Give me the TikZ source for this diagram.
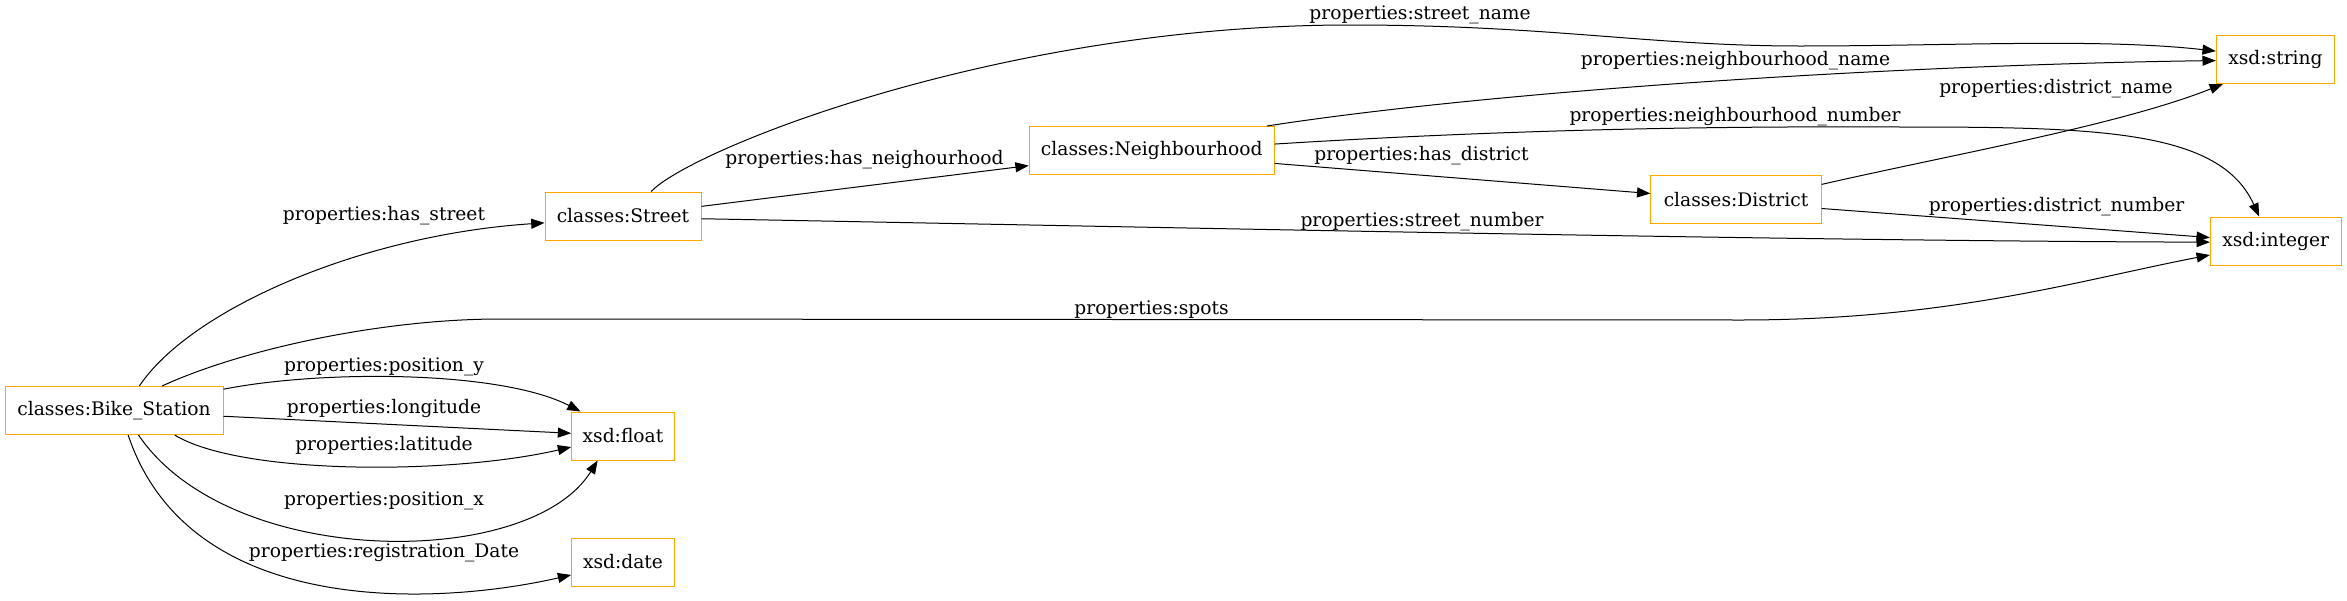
\documentclass[tikz,border=0pt]{standalone}
\usepackage{fontspec}
\setmainfont{DejaVu Serif}
\usetikzlibrary{arrows.meta}
\definecolor{gvorange}{HTML}{FFA500}
\tikzset{type node/.style={rectangle,draw=gvorange,line width=0.75pt,minimum height=36pt,inner xsep=4pt,font=\fontsize{14}{16}\selectfont},
  prop label/.style={inner sep=0pt,font=\fontsize{14}{16}\selectfont},
  prop/.style={draw,line width=0.75pt,-{Triangle[length=10pt,width=7.5pt]}},
}

\begin{document}
\begin{tikzpicture}[x=0.75pt,y=-0.75pt]
	\useasboundingbox (0,0) rectangle (2347,600);
	\node[type node,minimum width=163.5pt] (bike) at (114,410.5) {classes:Bike\_Station};
	\node[type node,minimum width=117pt] (street) at (623,216) {classes:Street};
	\node[type node,minimum width=183.75pt] (neigh) at (1151.7,150.5) {classes:Neighbourhood};
	\node[type node,minimum width=127.7pt] (district) at (1736,199.5) {classes:District};
	\node[type node,minimum width=88.8pt] (string) at (2275.5,59.5) {xsd:string};
	\node[type node,minimum width=98pt] (integer) at (2275.7,241) {xsd:integer};
	\node[type node,minimum width=77pt] (float) at (623,436) {xsd:float};
	\node[type node,minimum width=77pt] (date) at (623,562) {xsd:date};
	
	\draw[prop] (bike.44) .. controls (190,310) and (360,235) .. (street.185);
	\draw[prop] (bike.27) .. controls (240,350) and (380,319) .. (500,319) -- (1740,320) .. controls (1950,320) and (2080,280) .. (integer.192);
	\draw[prop] (bike.11) .. controls (320,370) and (500,370) .. (float.150);
	\draw[prop] (bike.357) -- (float.177);
	\draw[prop] (bike.338) .. controls (240,475) and (450,475) .. (float.192);
	\draw[prop] (bike.315) .. controls (230,570) and (530,570) .. (float.224);
	\draw[prop] (bike.300) .. controls (190,620) and (440,605) .. (date.194);
	\draw[prop] (street.41) .. controls (690,150) and (1000,25) .. (1350,25) .. controls (1550,25) and (1650,46) .. (1800,46) .. controls (1950,46) and (2100,38) .. (string.172);
	\draw[prop] (street.7) -- (neigh.187);
	\draw[prop] (street.358) .. controls (1200,228) and (1800,241) .. (integer.181);
	\draw[prop] (neigh.12) .. controls (1500,90) and (1900,65) .. (string.181);
	\draw[prop] (neigh.3) .. controls (1500,130) and (1700,126) .. (1900,127) .. controls (2100,127) and (2220,130) .. (integer.124);
	\draw[prop] (neigh.354) -- (district.176);
	\draw[prop] (district.10) .. controls (1950,155) and (2120,125) .. (string.205);
	\draw[prop] (district.354) -- (integer.177);
	
	\node[prop label] (l-street) at (384,216) {properties:has\_street};
	\node[prop label] (l-spots) at (1151.5,310) {properties:spots};
	\node[prop label] (l-posy) at (384,366.7) {properties:position\_y};
	\node[prop label] (l-long) at (384,408.3) {properties:longitude};
	\node[prop label] (l-lat) at (384,445) {properties:latitude};
	\node[prop label] (l-posx) at (384,500.7) {properties:position\_x};
	\node[prop label] (l-date) at (384,552.7) {properties:registration\_Date};
	\node[prop label] (l-sname) at (1420,15) {properties:street\_name};
	\node[prop label] (l-neigh) at (864.5,160) {properties:has\_neighourhood};
	\node[prop label] (l-snum) at (1422,222) {properties:street\_number};
	\node[prop label] (l-nname) at (1735.5,61) {properties:neighbourhood\_name};
	\node[prop label] (l-nnum) at (1735,117) {properties:neighbourhood\_number};
	\node[prop label] (l-district) at (1421.5,156) {properties:has\_district};
	\node[prop label] (l-dname) at (2056,88.3) {properties:district\_name};
	\node[prop label] (l-dnum) at (2056.6,207) {properties:district\_number};
\end{tikzpicture}
\end{document}
